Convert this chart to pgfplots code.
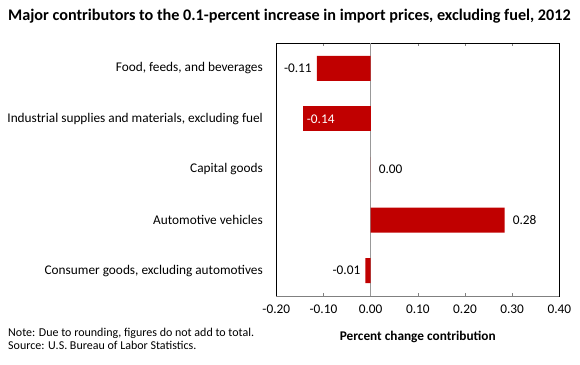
\documentclass[border=0pt]{standalone}
\usepackage{fontspec}
\setmainfont{Carlito}
\usepackage{pgfplots}
\pgfplotsset{compat=1.18}
\usepackage{pgfplotstable}
\definecolor{barred}{RGB}{192,0,0}
\pgfplotstableread{
y x lab
0 -0.114 -0.11
4 -0.011 -0.01
}\dataNeg
\pgfplotstableread{
y x lab
2 0.0 0.00
3 0.284 0.28
}\dataPos
\pgfplotstableread{
y x lab
1 -0.144 -0.14
}\dataB
\begin{document}
\fontsize{13.3pt}{16pt}\selectfont
\begin{tikzpicture}[x=1pt,y=1pt]
\useasboundingbox (0,0) rectangle (580,364);
\node[anchor=west,inner sep=0pt,font=\bfseries\fontsize{16.2pt}{19pt}\selectfont] at (8,348) {Major contributors to the 0.1-percent increase in import prices, excluding fuel, 2012};
\node[anchor=west,inner sep=0pt,font=\fontsize{12pt}{14pt}\selectfont] at (8,31) {Note: Due to rounding, figures do not add to total.};
\node[anchor=west,inner sep=0pt,font=\fontsize{12pt}{14pt}\selectfont] at (8,19) {Source: U.S. Bureau of Labor Statistics.};
\begin{axis}[
  at={(276.3pt,68pt)}, anchor=south west,
  scale only axis, width=283pt, height=253pt,
  xmin=-0.2, xmax=0.4,
  xtick={-0.2,-0.1,0,0.1,0.2,0.3,0.4},
  /pgf/number format/assume math mode=true,
  xticklabel={\pgfmathprintnumber[fixed,fixed zerofill,precision=2]{\tick}},
  ymin=-0.5, ymax=4.5, y dir=reverse,
  ytick={0,1,2,3,4},
  yticklabels={{Food, feeds, and beverages},{Industrial supplies and materials, excluding fuel},{Capital goods},{Automotive vehicles},{Consumer goods, excluding automotives}},
  y tick style={draw=none},
  yticklabel style={inner sep=0pt, anchor=east, xshift=-10pt},
  x tick style={draw=gray, thin},
  tick align=inside,
  major tick length=3.3pt,
  xticklabel style={inner sep=0pt, anchor=north, yshift=-9pt},
  axis line style={black, thin},
  xlabel={\bfseries Percent change contribution},
  xlabel style={at={(rel axis cs:0.5,0)}, anchor=center, yshift=-41pt},
  xbar, bar width=25pt, bar shift=0pt,
  point meta=explicit symbolic,
  nodes near coords align={horizontal},
  clip=false,
]
\draw[gray!80, thin] (axis cs:0,-0.5) -- (axis cs:0,4.5);
\addplot[fill=barred, draw=none, nodes near coords, nodes near coords style={black, anchor=east, inner sep=0pt, xshift=-5pt}] table[x=x,y=y,meta=lab] {\dataNeg};
\addplot[fill=barred, draw=none, nodes near coords, nodes near coords style={black, anchor=west, inner sep=0pt, xshift=8pt}] table[x=x,y=y,meta=lab] {\dataPos};
\addplot[fill=barred, draw=none, nodes near coords, nodes near coords style={white, anchor=west, inner sep=0pt, xshift=4pt}] table[x=x,y=y,meta=lab] {\dataB};
\draw[gray, thin] (rel axis cs:0,0) -- (rel axis cs:1,0);
\end{axis}
\end{tikzpicture}
\end{document}
